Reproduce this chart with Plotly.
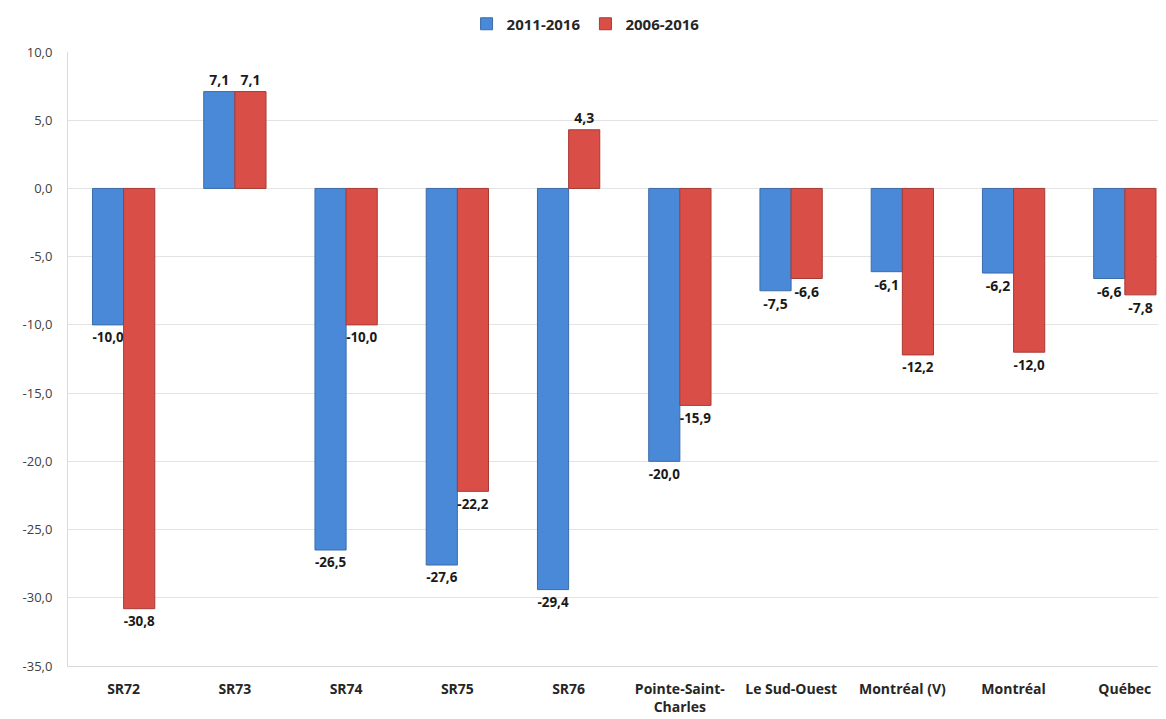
import plotly.graph_objects as go

categories = ["SR72", "SR73", "SR74", "SR75", "SR76", "Pointe-Saint-<br>Charles",
              "Le Sud-Ouest", "Montréal (V)", "Montréal", "Québec"]
v_2011_2016 = [-10.0, 7.1, -26.5, -27.6, -29.4, -20.0, -7.5, -6.1, -6.2, -6.6]
v_2006_2016 = [-30.8, 7.1, -10.0, -22.2, 4.3, -15.9, -6.6, -12.2, -12.0, -7.8]
y_ticks = [10, 5, 0, -5, -10, -15, -20, -25, -30, -35]

font = "Open Sans, Liberation Sans, sans-serif"

def fmt(v):
    return f"{v:.1f}".replace(".", ",")

fig = go.Figure()
fig.add_trace(go.Bar(
    x=categories, y=v_2011_2016, name="2011-2016",
    marker=dict(color="#4A89D8", line=dict(color="#3A6CA8", width=1)),
    text=[fmt(v) for v in v_2011_2016], textposition="outside",
    textfont=dict(family=font, size=14, color="#1a1a1a", weight="bold"),
    cliponaxis=False,
))
fig.add_trace(go.Bar(
    x=categories, y=v_2006_2016, name="2006-2016",
    marker=dict(color="#D94E47", line=dict(color="#A83A35", width=1)),
    text=[fmt(v) for v in v_2006_2016], textposition="outside",
    textfont=dict(family=font, size=14, color="#1a1a1a", weight="bold"),
    cliponaxis=False,
))

# the page body adds an 8px offset, so the figure is sized to fit the window
fig.update_layout(
    width=1158, height=711,
    margin=dict(l=60, r=0, t=44, b=53, autoexpand=False),
    plot_bgcolor="white", paper_bgcolor="white",
    barmode="group", bargap=0.44, bargroupgap=0,
    separators=",.",
    font=dict(family=font, color="#404040"),
    legend=dict(orientation="h", x=0.363, xanchor="left", y=1.0456, yanchor="middle",
                font=dict(size=15, color="#262626", weight="bold"),
                itemwidth=30, traceorder="normal"),
    xaxis=dict(range=[-0.5, 9.37], showgrid=False, ticks="",
               showline=True, linecolor="#d9d9d9", linewidth=1,
               ticklabelstandoff=10,
               tickfont=dict(size=14, color="#262626", weight="bold")),
    yaxis=dict(range=[-35, 10], tickvals=y_ticks, ticktext=[fmt(v) for v in y_ticks],
               showgrid=True, gridcolor="#e3e3e3", gridwidth=1,
               zeroline=False, showline=True, linecolor="#d9d9d9",
               ticklabelstandoff=12,
               tickfont=dict(size=13, color="#404040"), ticks="", ticklen=0),
)

fig.write_html("out.html")
